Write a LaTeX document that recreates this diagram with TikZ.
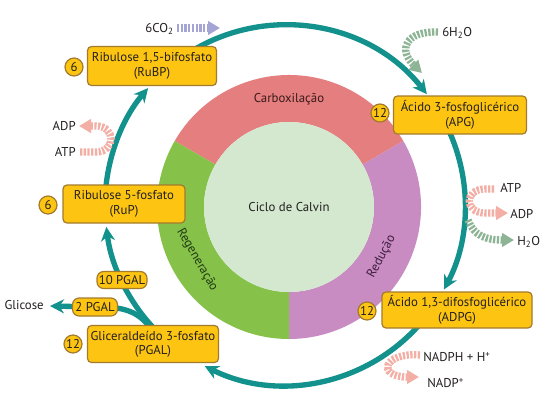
\documentclass[tikz,border=0pt]{standalone}
\usepackage{fontspec}
\setmainfont{PT Sans}
\usetikzlibrary{arrows.meta,calc}
\definecolor{teal1}{HTML}{12918D}
\definecolor{boxfill}{HTML}{FDC512}
\definecolor{boxdraw}{HTML}{A27B2E}
\definecolor{ringred}{HTML}{E57E7E}
\definecolor{ringpurple}{HTML}{C88BC2}
\definecolor{ringgreen}{HTML}{86C24A}
\definecolor{innerc}{HTML}{D3E8CF}
\definecolor{lav}{HTML}{A4A5D5}
\definecolor{sage}{HTML}{8DB595}
\definecolor{salmon}{HTML}{F3AEA5}
\definecolor{txt}{HTML}{231F20}
\definecolor{redtxt}{HTML}{3A1A1A}
\definecolor{greentxt}{HTML}{1F3A12}
\definecolor{purptxt}{HTML}{3D1F3E}
\begin{document}
\begin{tikzpicture}[x=0.75pt,y=-0.75pt, font=\fontsize{9.6}{10.8}\selectfont,
 box/.style={draw=boxdraw, fill=boxfill, line width=0.9pt, rounded corners=3pt, align=center, inner sep=1pt, text=txt},
 num/.style={circle, draw=boxdraw, fill=boxfill, line width=0.9pt, minimum size=13.5pt, inner sep=0pt, text=txt},
 cyc/.style={draw=teal1, line width=4pt, -{Stealth[length=10.5pt,width=10.5pt]}},
 stripe/.style={line width=5.5pt, dash pattern=on 1.7pt off 1.1pt, -{Triangle[length=9pt,width=10pt]}},
 lbl/.style={text=txt, inner sep=0pt}]
\useasboundingbox (0,0) rectangle (547,405);
\fill[white] (0,0) rectangle (547,405);
\coordinate (C) at (289,207);
\coordinate (T) at (285,205);
% ring
\fill[ringred] ($(C)+(-150:132)$) arc[start angle=-150,end angle=-30,radius=132] -- ($(C)+(-30:85)$) arc[start angle=-30,end angle=-150,radius=85] -- cycle;
\fill[ringpurple] ($(C)+(-30:132)$) arc[start angle=-30,end angle=90,radius=132] -- ($(C)+(90:85)$) arc[start angle=90,end angle=-30,radius=85] -- cycle;
\fill[ringgreen] ($(C)+(90:132)$) arc[start angle=90,end angle=210,radius=132] -- ($(C)+(210:85)$) arc[start angle=210,end angle=90,radius=85] -- cycle;
\fill[innerc] (C) circle[radius=85];
\node[lbl] (calvin) at (C) {Ciclo de Calvin};
\node[lbl, text=redtxt] (carb) at ($(C)+(-90:108)$) {Carboxilação};
\node[lbl, text=greentxt, rotate=-60] (regen) at ($(C)+(150:106)$) {Regeneração};
\node[lbl, text=purptxt, rotate=62] (red) at ($(C)+(28:105)$) {Redução};
% cycle arcs
\draw[cyc] ($(T)+(-120:180)$) arc[start angle=-120,end angle=-38,radius=180];
\draw[cyc] ($(T)+(-25:180)$) arc[start angle=-25,end angle=28,radius=180];
\draw[cyc] ($(T)+(40:180)$) arc[start angle=40,end angle=116.5,radius=180];
\draw[cyc] ($(T)+(136:180)$) arc[start angle=136,end angle=173,radius=180];
\draw[cyc] ($(T)+(184:180)$) arc[start angle=184,end angle=220.5,radius=180];
\coordinate (gl) at (50,306);
\draw[cyc] (148,325) .. controls (136,310) and (120,307) .. (100,307) -- (gl);
% boxes
\node[box, minimum width=96.75pt, minimum height=29.25pt] (rubp) at (152,66) {Ribulose 1,5-bifosfato\\(RuBP)};
\node[num] (n1) at (74,67) {6};
\node[box, minimum width=99.75pt, minimum height=28.5pt] (apg) at (460,115) {Ácido 3-fosfoglicérico\\(APG)};
\node[num] (n2) at (380,113) {12};
\node[box, minimum width=91.5pt, minimum height=28.5pt] (rup) at (124,204) {Ribulose 5-fosfato\\(RuP)};
\node[num] (n3) at (48,205) {6};
\node[box, minimum width=112.5pt, minimum height=27pt] (adpg) at (457,310) {Ácido 1,3-difosfoglicérico\\(ADPG)};
\node[num] (n4) at (367,311) {12};
\node[box, minimum width=98.25pt, minimum height=27.75pt] (pgal) at (153,344) {Gliceraldeído 3-fosfato\\(PGAL)};
\node[num] (n5) at (73,344) {12};
\node[box, rounded corners=5pt, minimum width=37.5pt, minimum height=12.75pt] (p10) at (122,280) {10 PGAL};
\node[box, rounded corners=5pt, minimum width=33.75pt, minimum height=13.5pt] (p2) at (95,307) {2 PGAL};
\node[lbl, anchor=east] (glic) at (44,305) {Glicose};
% small striped arrows
\node[lbl, anchor=east] (co2) at (174,29) {6CO\textsubscript{2}};
\coordinate (co2a) at (177,28);
\coordinate (co2b) at (220,28);
\draw[stripe, draw=lav] (co2a) -- (co2b);
\node[lbl, anchor=west] (h2o) at (442,33) {6H\textsubscript{2}O};
\coordinate (h2oa) at (438,32);
\coordinate (h2ob) at (422,73);
\draw[stripe, draw=sage] (h2oa) .. controls (405,31) and (398,50) .. (h2ob);
\node[lbl, anchor=east] (adpl) at (76,126) {ADP};
\node[lbl, anchor=east] (atpl) at (76,152) {ATP};
\coordinate (atpla) at (80,152);
\coordinate (atplb) at (79,126);
\draw[stripe, draw=salmon] (atpla) -- (96,152) .. controls (116,152) and (116,126) .. (96,126) -- (atplb);
\node[lbl, anchor=west] (atpr) at (500,188) {ATP};
\node[lbl, anchor=west] (adpr) at (510,214) {ADP};
\coordinate (atpra) at (494,189);
\coordinate (atprb) at (508,213);
\draw[stripe, draw=salmon] (atpra) -- (485,189) .. controls (464,189) and (464,213) .. (485,213) -- (atprb);
\node[lbl, anchor=west] (h2or) at (517,242) {H\textsubscript{2}O};
\coordinate (h2ora) at (468,220);
\coordinate (h2orb) at (514,240);
\draw[stripe, draw=sage] (h2ora) .. controls (474,236) and (486,240) .. (h2orb);
\node[lbl, anchor=west] (nadph) at (423,357) {NADPH + H\textsuperscript{+}};
\node[lbl, anchor=west] (nadp) at (427,383) {NADP\textsuperscript{+}};
\coordinate (nada) at (420,355);
\coordinate (nadb) at (419,377);
\draw[stripe, draw=salmon] (nada) .. controls (383,352) and (376,377) .. (nadb);
\end{tikzpicture}
\end{document}
